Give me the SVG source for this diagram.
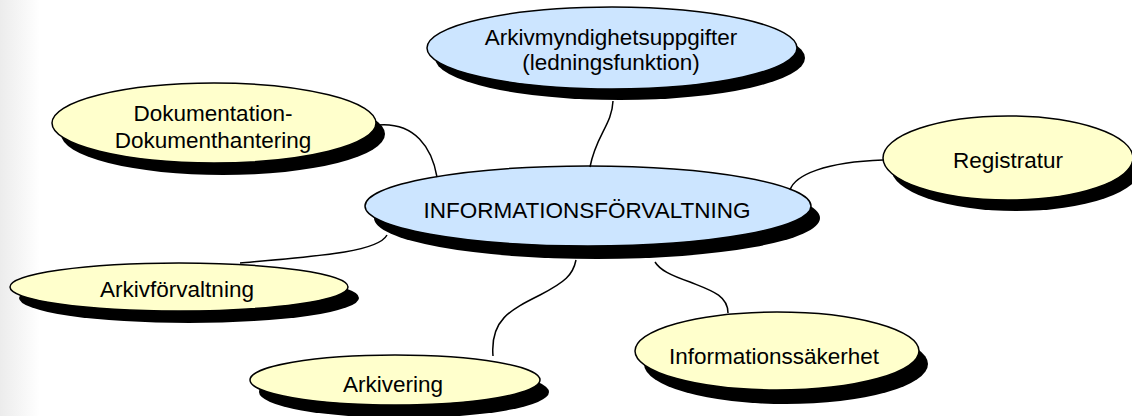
<svg xmlns="http://www.w3.org/2000/svg" width="1132" height="416" viewBox="0 0 1132 416">
<defs>
<linearGradient id="edge" x1="0" y1="0" x2="1" y2="0">
<stop offset="0" stop-color="#ececec"/>
<stop offset="1" stop-color="#ffffff"/>
</linearGradient>
</defs>
<style>
.sh{fill:#000}
.blue{fill:#cce5ff;stroke:#000;stroke-width:1.5}
.yel{fill:#ffffcc;stroke:#000;stroke-width:1.5}
.t{font-family:"Liberation Sans",Arial,sans-serif;font-size:22.5px;fill:#000;text-anchor:middle}
.c{fill:none;stroke:#000;stroke-width:1.5}
</style>
<rect width="1132" height="416" fill="#fff"/>
<rect width="40" height="416" fill="url(#edge)"/>
<g id="node-arkivmyndighet">
<ellipse class="sh" cx="620" cy="58" rx="185" ry="42"/>
<ellipse class="blue" cx="612" cy="48" rx="185" ry="41"/>
<text class="t" x="611" y="45">Arkivmyndighetsuppgifter</text>
<text class="t" x="611" y="70">(ledningsfunktion)</text>
</g>
<g id="node-dokumentation">
<ellipse class="sh" cx="223" cy="134" rx="162" ry="41"/>
<ellipse class="yel" cx="214" cy="123" rx="162" ry="40"/>
<text class="t" x="213" y="121">Dokumentation-</text>
<text class="t" x="213" y="148">Dokumenthantering</text>
</g>
<g id="node-registratur">
<ellipse class="sh" cx="1016" cy="168" rx="125" ry="43"/>
<ellipse class="yel" cx="1008" cy="158" rx="125" ry="42"/>
<text class="t" x="1008" y="168">Registratur</text>
</g>
<g id="node-center">
<ellipse class="sh" cx="597" cy="218" rx="223" ry="41"/>
<ellipse class="blue" cx="588" cy="206" rx="223" ry="40"/>
<text class="t" x="587" y="218">INFORMATIONSFÖRVALTNING</text>
</g>
<g id="node-arkivforvaltning">
<ellipse class="sh" cx="189" cy="298" rx="170" ry="25"/>
<ellipse class="yel" cx="179" cy="287" rx="169" ry="24"/>
<text class="t" x="177" y="297">Arkivförvaltning</text>
</g>
<g id="node-arkivering">
<ellipse class="sh" cx="404" cy="392" rx="145" ry="26"/>
<ellipse class="yel" cx="395" cy="380" rx="145" ry="25"/>
<text class="t" x="393" y="392">Arkivering</text>
</g>
<g id="node-informationssakerhet">
<ellipse class="sh" cx="786" cy="364" rx="142" ry="40"/>
<ellipse class="yel" cx="777" cy="351" rx="142" ry="39"/>
<text class="t" x="774" y="364">Informationssäkerhet</text>
</g>
<g id="connectors">
<path class="c" d="M613,101 C612,125 596,135 590,167"/>
<path class="c" d="M378,125 C415,122 432,148 437,177"/>
<path class="c" d="M883,160 C825,162 795,175 790,190"/>
<path class="c" d="M240,263 C320,256 378,252 387,235"/>
<path class="c" d="M493,356 C490,320 510,310 540,295 C565,282 573,275 576,260"/>
<path class="c" d="M728,313 C728,295 710,290 690,282 C670,275 660,270 655,262"/>
</g>
</svg>
